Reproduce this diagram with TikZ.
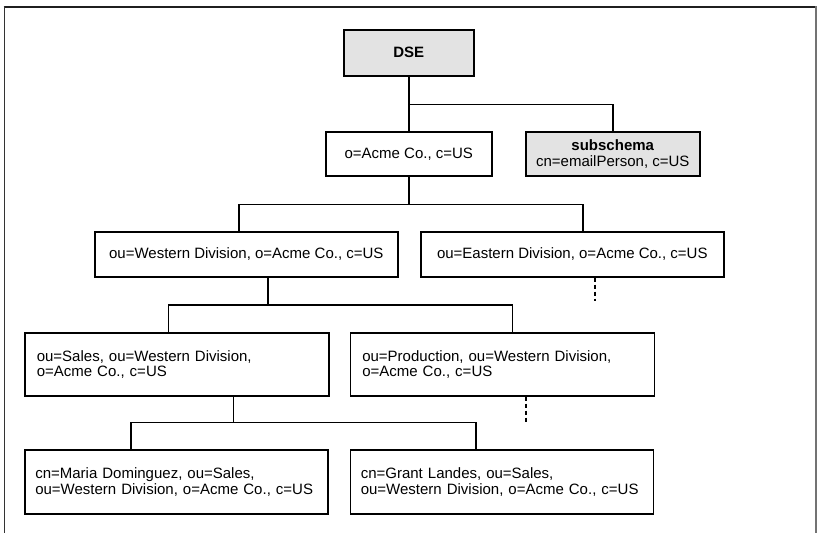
\documentclass[tikz,border=0pt]{standalone}
\usepackage{fontspec}
\setmainfont{Liberation Sans}
\begin{document}
\begin{tikzpicture}[x=1pt,y=-1pt,
  every node/.style={font=\fontsize{15}{15.5}\selectfont},
  entry/.style={draw=black,line width=1.6pt,rectangle,inner sep=0pt,anchor=north west},
  shaded/.style={fill=gray!22},
  conn/.style={line width=1.6pt,draw=black},
  cont/.style={line width=1.6pt,draw=black,dash pattern=on 4pt off 3pt}]
\useasboundingbox (0,0) rectangle (817,533);
% frame
\draw[line width=2.5pt,color=black!88] (3.5,7) -- (817,7);
\draw[line width=1.8pt,color=black!80] (4.5,6) -- (4.5,533);
\draw[line width=1.6pt,color=black!55] (816,6) -- (816,533);
% nodes
\node[entry,shaded,minimum width=130pt,minimum height=46pt] (dse) at (343,29) {\textbf{DSE}};
\node[entry,minimum width=166pt,minimum height=44pt] (acme) at (325,131) {o=Acme Co., c=US};
\node[entry,shaded,minimum width=174pt,minimum height=44pt,align=center] (sub) at (525,131) {\textbf{subschema}\\cn=emailPerson, c=US};
\node[entry,minimum width=303pt,minimum height=45pt] (west) at (94,231) {ou=Western Division, o=Acme Co., c=US};
\node[entry,minimum width=303pt,minimum height=45pt] (east) at (420,231) {ou=Eastern Division, o=Acme Co., c=US};
\node[entry,minimum width=303pt,minimum height=63pt,text width=280pt,inner xsep=12pt,align=left] (sales) at (24,332) {ou=Sales, ou=Western Division,\\o=Acme Co., c=US};
\node[entry,minimum width=303pt,minimum height=63pt,text width=280pt,inner xsep=12pt,align=left] (prod) at (349.5,332) {ou=Production, ou=Western Division,\\o=Acme Co., c=US};
\node[entry,minimum width=303pt,minimum height=64pt,text width=282pt,inner xsep=10.5pt,align=left] (maria) at (24,449) {cn=Maria Dominguez, ou=Sales,\\ou=Western Division, o=Acme Co., c=US};
\node[entry,minimum width=303pt,minimum height=64pt,text width=282pt,inner xsep=10.5pt,align=left] (grant) at (349.5,449) {cn=Grant Landes, ou=Sales,\\ou=Western Division, o=Acme Co., c=US};
% connectors
\draw[conn] (dse.south) -- (acme.north);
\draw[conn] (dse.south) ++(0,28) coordinate (j0) -| (sub.north);
\draw[conn] (acme.south) -- ++(0,28) coordinate (j1);
\draw[conn] ([xshift=-7.5pt]west.north) |- (j1) -| ([xshift=10.5pt]east.north);
\draw[conn] ([xshift=21.5pt]west.south) -- ++(0,27.5) coordinate (j2);
\draw[conn] ([xshift=-8.5pt]sales.north) |- (j2) -| ([xshift=10pt]prod.north);
\draw[conn] ([xshift=56.5pt]sales.south) -- ++(0,26) coordinate (j3);
\draw[conn] ([xshift=-45.5pt]maria.north) |- (j3) -| ([xshift=-26pt]grant.north);
\coordinate (eend) at ([xshift=22.5pt,yshift=-23pt]east.south);
\draw[cont] ([xshift=22.5pt]east.south) -- (eend);
\coordinate (pend) at ([xshift=23.5pt,yshift=-25pt]prod.south);
\draw[cont] ([xshift=23.5pt]prod.south) -- (pend);
\end{tikzpicture}
\end{document}
